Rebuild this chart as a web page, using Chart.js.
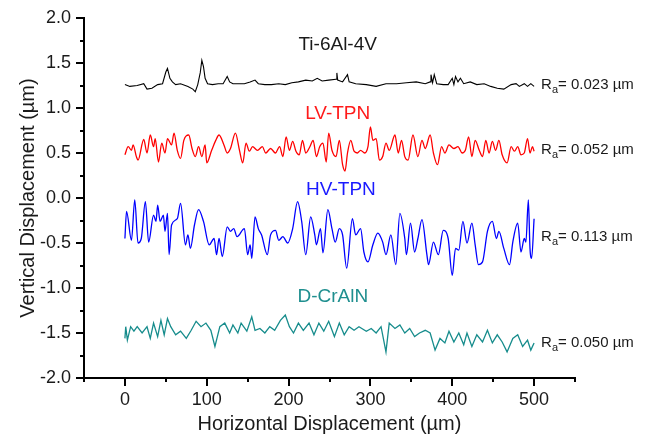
<!DOCTYPE html>
<html>
<head>
<meta charset="utf-8">
<script src="https://cdn.jsdelivr.net/npm/chart.js@4.4.0/dist/chart.umd.min.js"></script>
<style>
  html, body { margin: 0; padding: 0; background: #fff; }
  #wrap { width: 649px; height: 437px; }
</style>
</head>
<body>
<div id="wrap"><canvas id="chart" width="649" height="437"></canvas></div>
<script>
// profile traces, [x µm, y µm]
const tiPts = [
  [0,1.26],[6,1.24],[15,1.25],[23,1.27],[27,1.21],[33,1.22],[40,1.26],[46,1.27],[50,1.40],[52,1.44],
  [55,1.33],[58,1.29],[62,1.26],[68,1.27],[77,1.24],[83,1.21],[86,1.18],[89,1.26],[92,1.39],[94,1.53],
  [96,1.46],[98,1.33],[101,1.27],[107,1.26],[114,1.27],[120,1.27],[125,1.35],[128,1.29],[132,1.27],[138,1.27],
  [146,1.27],[153,1.29],[159,1.31],[163,1.27],[171,1.26],[179,1.26],[188,1.27],[196,1.26],[204,1.28],[212,1.29],
  [221,1.31],[229,1.30],[235,1.33],[241,1.30],[249,1.31],[258,1.32],[259,1.39],[260,1.31],[266,1.29],[272,1.37],
  [274,1.29],[282,1.27],[295,1.26],[307,1.24],[319,1.27],[332,1.27],[344,1.28],[356,1.29],[367,1.27],[373,1.29],
  [374,1.37],[376,1.28],[378,1.37],[381,1.27],[389,1.26],[395,1.26],[400,1.33],[402,1.26],[404,1.35],[407,1.29],
  [410,1.33],[414,1.27],[422,1.29],[430,1.26],[439,1.27],[447,1.24],[455,1.22],[463,1.21],[472,1.26],[478,1.27],
  [482,1.24],[488,1.27],[492,1.24],[496,1.27],[500,1.24]
];
const lvPts = [
  [0,0.48],[4,0.57],[8,0.53],[10,0.59],[14,0.46],[16,0.42],[23,0.65],[27,0.50],[31,0.70],[35,0.57],
  [37,0.66],[41,0.40],[45,0.61],[49,0.50],[52,0.66],[57,0.59],[60,0.72],[64,0.53],[68,0.44],[72,0.64],
  [78,0.70],[82,0.55],[86,0.46],[90,0.57],[94,0.46],[98,0.59],[100,0.39],[106,0.53],[111,0.64],[115,0.70],
  [121,0.59],[125,0.50],[129,0.55],[135,0.72],[140,0.53],[144,0.39],[148,0.61],[152,0.52],[156,0.57],[162,0.53],
  [168,0.57],[172,0.50],[178,0.55],[184,0.50],[189,0.57],[193,0.46],[197,0.68],[201,0.53],[205,0.63],[209,0.52],
  [213,0.48],[217,0.64],[221,0.50],[226,0.57],[230,0.64],[234,0.46],[238,0.57],[242,0.61],[246,0.40],[249,0.72],
  [253,0.53],[258,0.46],[262,0.64],[266,0.37],[269,0.30],[272,0.50],[276,0.64],[280,0.52],[284,0.50],[288,0.53],
  [293,0.50],[297,0.57],[300,0.79],[303,0.64],[307,0.66],[311,0.42],[315,0.46],[319,0.61],[323,0.53],[330,0.70],
  [334,0.50],[338,0.64],[342,0.46],[346,0.42],[352,0.70],[358,0.46],[363,0.64],[367,0.55],[373,0.70],[377,0.50],
  [382,0.37],[387,0.57],[391,0.50],[396,0.59],[402,0.55],[407,0.57],[412,0.50],[416,0.53],[420,0.68],[424,0.46],
  [428,0.64],[433,0.53],[437,0.46],[441,0.64],[445,0.50],[449,0.63],[453,0.53],[457,0.64],[461,0.48],[467,0.39],
  [472,0.57],[476,0.52],[480,0.57],[484,0.48],[488,0.50],[492,0.66],[495,0.50],[498,0.57],[500,0.52]
];
const hvPts = [
  [0,-0.45],[2,-0.15],[8,-0.47],[12,-0.02],[16,-0.50],[20,-0.45],[25,-0.04],[29,-0.49],[35,-0.19],[38,-0.26],
  [40,-0.08],[43,-0.26],[47,-0.19],[49,-0.37],[52,-0.17],[54,-0.63],[57,-0.30],[64,-0.23],[68,-0.06],[74,-0.52],
  [77,-0.41],[80,-0.56],[85,-0.30],[90,-0.13],[96,-0.26],[103,-0.52],[109,-0.45],[112,-0.63],[115,-0.45],[119,-0.65],
  [125,-0.32],[129,-0.37],[133,-0.34],[137,-0.43],[146,-0.34],[150,-0.63],[153,-0.52],[155,-0.67],[159,-0.21],[163,-0.34],
  [167,-0.41],[174,-0.63],[178,-0.41],[184,-0.36],[188,-0.47],[193,-0.43],[199,-0.50],[205,-0.34],[211,-0.04],[216,-0.26],
  [221,-0.63],[227,-0.21],[232,-0.41],[234,-0.52],[239,-0.34],[242,-0.61],[248,-0.13],[253,-0.34],[257,-0.49],[262,-0.34],
  [266,-0.41],[271,-0.78],[278,-0.23],[282,-0.41],[288,-0.34],[292,-0.60],[297,-0.71],[303,-0.52],[309,-0.39],[315,-0.49],
  [319,-0.63],[325,-0.41],[331,-0.74],[336,-0.17],[342,-0.45],[344,-0.63],[349,-0.28],[354,-0.60],[358,-0.45],[363,-0.24],
  [369,-0.63],[371,-0.74],[377,-0.49],[383,-0.63],[389,-0.36],[395,-0.45],[400,-0.86],[404,-0.56],[408,-0.58],[413,-0.26],
  [418,-0.50],[424,-0.28],[428,-0.52],[432,-0.74],[437,-0.71],[443,-0.37],[449,-0.26],[454,-0.45],[457,-0.37],[463,-0.56],
  [470,-0.74],[474,-0.49],[480,-0.28],[484,-0.60],[488,-0.45],[490,-0.49],[493,-0.02],[495,-0.56],[497,-0.67],[500,-0.23]
];
const dcPts = [
  [0,-1.56],[1,-1.43],[3,-1.58],[7,-1.43],[11,-1.48],[15,-1.43],[21,-1.50],[27,-1.43],[31,-1.56],[35,-1.39],
  [40,-1.54],[44,-1.36],[48,-1.52],[52,-1.34],[56,-1.43],[62,-1.52],[68,-1.48],[75,-1.56],[81,-1.47],[87,-1.37],
  [93,-1.43],[99,-1.39],[105,-1.47],[110,-1.65],[116,-1.43],[122,-1.39],[128,-1.50],[132,-1.41],[138,-1.50],[142,-1.39],
  [149,-1.48],[155,-1.32],[159,-1.47],[165,-1.45],[171,-1.50],[177,-1.43],[183,-1.47],[190,-1.36],[196,-1.30],[201,-1.43],
  [206,-1.50],[212,-1.39],[218,-1.47],[225,-1.39],[231,-1.52],[237,-1.39],[243,-1.48],[249,-1.37],[256,-1.54],[262,-1.39],
  [268,-1.52],[274,-1.43],[280,-1.47],[286,-1.43],[295,-1.48],[301,-1.45],[307,-1.50],[313,-1.43],[319,-1.71],[323,-1.39],
  [330,-1.45],[336,-1.41],[342,-1.50],[348,-1.45],[354,-1.54],[360,-1.50],[367,-1.47],[373,-1.50],[379,-1.69],[385,-1.56],
  [391,-1.61],[396,-1.48],[402,-1.60],[408,-1.50],[414,-1.63],[418,-1.50],[424,-1.65],[430,-1.52],[437,-1.60],[443,-1.47],
  [449,-1.61],[455,-1.52],[461,-1.60],[467,-1.71],[474,-1.56],[480,-1.52],[486,-1.65],[492,-1.58],[496,-1.69],[500,-1.61]
];

const seriesNames = ["Ti-6Al-4V", "LV-TPN", "HV-TPN", "D-CrAlN"];
const raValues = ["0.023", "0.052", "0.113", "0.050"];
const seriesColors = ["#000000", "#ff0000", "#0000ff", "#168c8c"];
const nameColors = ["#1a1a1a", "#ff1a1a", "#1a1aff", "#1f8f8f"];
// where the name and Ra text sit, in data units
const nameAt = [[260, 1.70], [260, 0.94], [264, 0.09], [254, -1.10]];
const raAt = [1.256, 0.533, -0.433, -1.611];

const FONT = "'Liberation Sans', Arial, sans-serif";

function isMult(v, step) {
  return Math.abs(v / step - Math.round(v / step)) < 1e-6;
}

// outward ticks, long for labelled values, short in between
const axisTicks = {
  id: "axisTicks",
  afterDraw(chart) {
    const { ctx, chartArea: a, scales: { x, y } } = chart;
    ctx.save();
    ctx.strokeStyle = "#000";
    ctx.lineWidth = 2;
    ctx.beginPath();
    y.ticks.forEach(t => {
      const py = Math.round(y.getPixelForValue(t.value));
      const len = isMult(t.value, 0.5) ? 8 : 4;
      ctx.moveTo(a.left - len, py);
      ctx.lineTo(a.left, py);
    });
    x.ticks.forEach(t => {
      const px = Math.round(x.getPixelForValue(t.value));
      const len = isMult(t.value, 100) ? 8 : 4;
      ctx.moveTo(px, a.bottom);
      ctx.lineTo(px, a.bottom + len);
    });
    ctx.stroke();
    ctx.restore();
  }
};

const curveLabels = {
  id: "curveLabels",
  afterDraw(chart) {
    const { ctx, scales: { x, y } } = chart;
    ctx.save();
    ctx.textBaseline = "middle";
    seriesNames.forEach((name, i) => {
      ctx.font = `19px ${FONT}`;
      ctx.fillStyle = nameColors[i];
      ctx.textAlign = "center";
      ctx.fillText(name, x.getPixelForValue(nameAt[i][0]), y.getPixelForValue(nameAt[i][1]));

      // R_a = ... µm
      let px = x.getPixelForValue(500) + 7;
      const py = y.getPixelForValue(raAt[i]);
      ctx.fillStyle = "#1a1a1a";
      ctx.textAlign = "left";
      ctx.font = `15px ${FONT}`;
      ctx.fillText("R", px, py);
      px += ctx.measureText("R").width;
      ctx.font = `11px ${FONT}`;
      ctx.fillText("a", px, py + 5);
      px += ctx.measureText("a").width;
      ctx.font = `15px ${FONT}`;
      ctx.fillText("= " + raValues[i] + " \u00b5m", px, py);
    });
    ctx.restore();
  }
};

const toXY = pts => pts.map(([x, y]) => ({ x, y }));

new Chart(document.getElementById("chart"), {
  type: "line",
  data: {
    datasets: [tiPts, lvPts, hvPts, dcPts].map((pts, i) => ({
      label: seriesNames[i],
      data: toXY(pts),
      borderColor: seriesColors[i],
      borderWidth: i === 0 ? 1.1 : 1.3,
      pointRadius: 0,
      fill: false,
      cubicInterpolationMode: (i === 1 || i === 2) ? "monotone" : "default",
      tension: 0,
    })),
  },
  options: {
    responsive: false,
    animation: false,
    layout: { padding: { top: 18, right: 74, bottom: 0, left: 16 } },
    plugins: { legend: { display: false }, tooltip: { enabled: false } },
    scales: {
      x: {
        type: "linear",
        min: -50,
        max: 550,
        grid: { display: false, drawTicks: false },
        border: { display: true, color: "#000", width: 2 },
        ticks: {
          stepSize: 50,
          autoSkip: false,
          maxRotation: 0,
          padding: 11,
          color: "#1a1a1a",
          font: { family: FONT, size: 18 },
          callback: v => (isMult(v, 100) ? String(v) : ""),
        },
        title: {
          display: true,
          text: "Horizontal Displacement (\u00b5m)",
          color: "#1a1a1a",
          font: { family: FONT, size: 20 },
          padding: { top: 0, bottom: 1 },
        },
        afterFit: s => {
          s.height = 59;
          s.paddingLeft = 0;
          s.paddingRight = 0;
        },
      },
      y: {
        min: -2,
        max: 2,
        grid: { display: false, drawTicks: false },
        border: { display: true, color: "#000", width: 2 },
        ticks: {
          stepSize: 0.25,
          autoSkip: false,
          padding: 13,
          color: "#1a1a1a",
          font: { family: FONT, size: 18 },
          callback: v => (isMult(v, 0.5) ? v.toFixed(1) : ""),
        },
        title: {
          display: true,
          text: "Vertical Displacement (\u00b5m)",
          color: "#1a1a1a",
          font: { family: FONT, size: 20 },
          padding: { top: 0, bottom: 0 },
        },
        afterFit: s => {
          s.width = 68;
          s.paddingTop = 0;
          s.paddingBottom = 0;
        },
      },
    },
  },
  plugins: [axisTicks, curveLabels],
});
</script>
</body>
</html>
